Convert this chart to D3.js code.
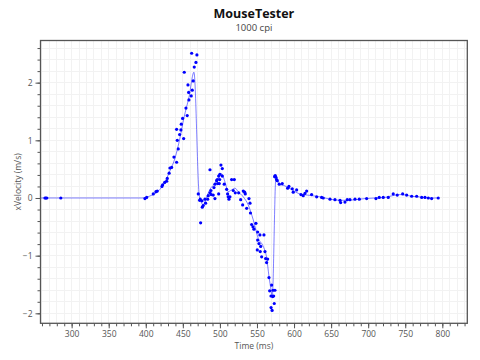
<!DOCTYPE html>
<html><head><meta charset="utf-8">
<script src="https://cdn.jsdelivr.net/npm/d3@7"></script>
<style>
html,body{margin:0;padding:0;background:#fff;}
svg{display:block;}
text{font-family:"Open Sans","DejaVu Sans",sans-serif;}
</style></head>
<body><svg id="chart" width="480" height="360"></svg>
<script>
// ---- data ----
const title = "MouseTester";
const subtitle = "1000 cpi";
const xLabel = "Time (ms)";
const yLabel = "xVelocity (m/s)";

const timeMs = [264.0,265.2,266.5,285.4,
398.9,401.2,410.1,413.7,415.5,421.8,422.8,425.5,428.2,429.0,431.5,432.6,434.9,438.0,441.6,442.5,443.8,445.7,441.6,447.4,447.9,449.7,451.1,451.9,454.2,455.9,456.9,457.8,458.2,461.3,461.9,462.7,464.0,465.4,467.7,469.0,
470.8,472.7,473.5,474.0,475.8,476.2,477.5,479.8,480.7,483.5,484.3,486.6,486.6,487.9,488.3,491.0,492.0,493.3,493.3,495.6,496.4,497.0,498.3,498.3,499.1,499.7,500.0,501.4,503.2,503.2,505.8,509.1,510.4,511.2,512.2,513.5,515.8,518.0,519.4,520.7,525.3,528.0,530.7,531.5,533.4,534.2,536.1,539.2,540.6,541.2,
542.8,544.6,545.9,548.6,550.9,550.9,552.7,554.0,555.0,550.4,554.4,556.3,559.4,560.8,561.7,563.0,564.4,566.2,567.1,569.8,571.6,568.9,571.2,572.5,574.2,569.0,570.4,573.3,
573.8,574.6,575.6,576.5,577.4,580.0,584.1,591.4,593.1,597.6,598.9,603.5,609.3,612.4,614.7,617.0,623.7,630.5,637.2,639.4,648.5,655.2,662.0,662.9,668.7,671.8,675.4,682.2,688.0,697.9,710.5,714.9,720.3,727.1,733.8,739.2,746.5,751.9,758.7,765.4,772.2,776.6,781.1,785.6,794.5];

const velocity = [0,0,0,0,
-0.01,0.01,0.07,0.11,0.12,0.20,0.23,0.27,0.29,0.34,0.43,0.52,0.53,0.71,0.62,1.00,0.85,1.10,1.19,1.18,1.28,1.38,1.03,2.18,1.56,1.43,1.96,1.83,1.70,1.77,2.51,1.87,2.03,2.27,2.35,2.48,
0.07,-0.04,-0.02,-0.43,-0.05,-0.16,-0.13,-0.02,-0.09,-0.02,0.04,0.09,0.49,0.13,0.06,0.05,0.18,0.24,-0.01,0.30,0.32,0.25,0.38,0.07,0.25,0.32,0.41,0.57,0.51,0.38,0.24,0.15,0.07,0.02,-0.02,0.02,0.32,0.13,0.32,0.09,0.09,-0.03,-0.12,0.12,0.10,0.07,-0.18,-0.01,-0.09,-0.26,
-0.46,-0.50,-0.54,-0.44,-0.59,-0.73,-0.79,-0.64,-0.84,-0.90,-0.93,-1.02,-0.64,-0.93,-1.05,-1.12,-1.06,-1.38,-1.61,-1.51,-1.60,-1.70,-1.71,-1.70,-1.60,-1.90,-1.95,-1.83,
0.37,0.39,0.36,0.32,0.30,0.24,0.25,0.17,0.20,0.16,0.10,0.14,0.06,0.04,0.08,0.12,0.06,0.02,0.01,0.00,-0.02,-0.03,-0.04,-0.08,-0.07,-0.03,-0.03,-0.02,-0.02,-0.01,-0.01,0.01,0.01,0.01,0.07,0.05,0.07,0.05,0.03,0.03,0.01,0.01,0.00,-0.01,0.00];

const fitTimeMs = [258.6,394.8,405.6,415.1,423.2,432.6,439.4,446.1,451.5,458.3,465.0,472.1,475.4,477.5,482.1,486.6,493.3,499.1,502.4,506.8,511.3,515.8,520.3,524.7,531.5,538.2,545.0,551.7,558.5,563.1,566.2,568.9,570.6,575.6,577.4,579.6,587.7,597.2,608.0,621.5,635.0,648.4,661.9,671.4,682.2,695.7,709.2,722.6,736.1,745.6,756.4,769.9,783.4,794.1];
const fitVelocity = [0,0,0.035,0.10,0.22,0.47,0.69,1.04,1.39,1.75,2.18,0.05,-0.09,-0.12,0.02,0.15,0.25,0.36,0.42,0.28,0.11,0.14,0.17,0.11,0.02,-0.12,-0.38,-0.70,-0.84,-1.04,-1.36,-1.59,-1.71,0.37,0.31,0.24,0.21,0.14,0.07,0.045,0.02,-0.02,-0.04,-0.04,-0.03,-0.01,0,0.01,0.05,0.06,0.035,0.017,0,0];

const xMajorTicks = [300,350,400,450,500,550,600,650,700,750,800];
const yMajorTicks = [-2,-1,0,1,2];
const xDomain = [258, 833.7];
const yDomain = [-2.173, 2.731];

// ---- layout ----
const svg = d3.select("#chart");
const L = 40.5, R = 467.3, T = 40.5, B = 323.3;
const x = d3.scaleLinear().domain(xDomain).range([L, R]);
const y = d3.scaleLinear().domain(yDomain).range([B, T]);

const xMinor = d3.range(260, 834, 10);
const yMinor = d3.range(-2.0, 2.75, 0.2).map(v => Math.round(v*10)/10);

// grid
const grid = svg.append("g");
grid.selectAll("line.gx").data(xMinor).join("line")
  .attr("x1", d => x(d)).attr("x2", d => x(d)).attr("y1", T).attr("y2", B)
  .attr("stroke", "#f2f2f2").attr("stroke-width", 1).attr("shape-rendering","crispEdges");
grid.selectAll("line.gy").data(yMinor).join("line")
  .attr("y1", d => y(d)).attr("y2", d => y(d)).attr("x1", L).attr("x2", R)
  .attr("stroke", "#f2f2f2").attr("stroke-width", 1).attr("shape-rendering","crispEdges");

// clip
svg.append("clipPath").attr("id","clip").append("rect")
  .attr("x", L).attr("y", T).attr("width", R-L).attr("height", B-T);

const plot = svg.append("g").attr("clip-path","url(#clip)");
const line = d3.line().x(d => x(d[0])).y(d => y(d[1])).curve(d3.curveMonotoneX);
plot.append("path").datum(fitTimeMs.map((t,i)=>[t, fitVelocity[i]]))
  .attr("d", line).attr("fill","none").attr("stroke","#0000ff").attr("stroke-opacity",0.5).attr("stroke-width",1);

plot.selectAll("circle").data(timeMs.map((t,i)=>[t, velocity[i]])).join("circle")
  .attr("cx", d => x(d[0])).attr("cy", d => y(d[1])).attr("r", 1.6).attr("fill", "#0000ff");

// axes
const xAxisMajor = d3.axisBottom(x).tickValues(xMajorTicks).tickSize(5).tickPadding(3).tickFormat(d3.format("d"));
const xAxisMinor = d3.axisBottom(x).tickValues(xMinor).tickSize(3).tickFormat("");
const yAxisMajor = d3.axisLeft(y).tickValues(yMajorTicks).tickSize(5).tickPadding(3).tickFormat(d3.format("d"));
const yAxisMinor = d3.axisLeft(y).tickValues(yMinor).tickSize(3).tickFormat("");

function styleAxis(g){
  g.select(".domain").remove();
  g.selectAll(".tick line").attr("stroke","#555").attr("stroke-width",1);
  g.selectAll(".tick text").attr("fill","#555").attr("font-size","8.5px").attr("font-family",'"Open Sans",sans-serif');
}
svg.append("g").attr("transform",`translate(0,${B})`).call(xAxisMinor).call(styleAxis);
svg.append("g").attr("transform",`translate(0,${B})`).call(xAxisMajor).call(styleAxis);
svg.append("g").attr("transform",`translate(${L},0)`).call(yAxisMinor).call(styleAxis);
svg.append("g").attr("transform",`translate(${L},0)`).call(yAxisMajor).call(styleAxis);

// frame
svg.append("rect").attr("x", L).attr("y", T).attr("width", R-L).attr("height", B-T)
  .attr("fill","none").attr("stroke","#555").attr("stroke-width",1.3);

// titles
const cx = (L+R)/2;
svg.append("text").attr("x", cx).attr("y", 18).attr("text-anchor","middle")
  .attr("font-size","12.5px").attr("font-weight","bold").attr("fill","#111").text(title);
svg.append("text").attr("x", cx).attr("y", 31).attr("text-anchor","middle")
  .attr("font-size","9.5px").attr("fill","#444").text(subtitle);
svg.append("text").attr("x", cx).attr("y", 349).attr("text-anchor","middle")
  .attr("font-size","8.5px").attr("fill","#555").text(xLabel);
svg.append("text").attr("transform",`translate(21,${(T+B)/2}) rotate(-90)`).attr("text-anchor","middle")
  .attr("font-size","8.5px").attr("fill","#555").text(yLabel);
</script>
</body></html>
